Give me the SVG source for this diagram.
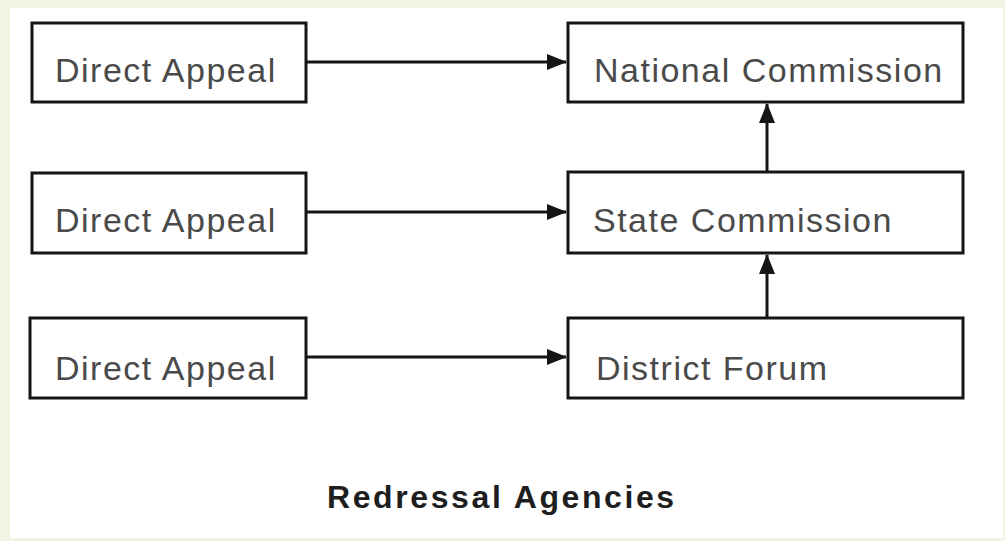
<svg xmlns="http://www.w3.org/2000/svg" width="1005" height="541" viewBox="0 0 1005 541">
<style>
.box{fill:#fff;stroke:#151515;stroke-width:3}
.lbl{font-family:"Liberation Sans",Arial,sans-serif;font-size:34px;fill:#4a4a4a;letter-spacing:1.5px}
.ttl{font-family:"Liberation Sans",Arial,sans-serif;font-size:32px;font-weight:bold;fill:#1e1e1e;letter-spacing:2.6px}
.con{stroke:#151515;stroke-width:3;fill:none}
</style>
<defs>
<marker id="ah" viewBox="0 0 20 16" refX="19" refY="8" markerWidth="20" markerHeight="16" markerUnits="userSpaceOnUse" orient="auto">
<path d="M0,0 L20,8 L0,16 Z" fill="#151515"/>
</marker>
</defs>
<rect width="1005" height="541" fill="#f2f4e3"/>
<rect x="10" y="8" width="993" height="530" fill="#ffffff"/>
<g id="connectors">
<line class="con" x1="306" y1="62" x2="566" y2="62" marker-end="url(#ah)"/>
<line class="con" x1="306" y1="212" x2="566" y2="212" marker-end="url(#ah)"/>
<line class="con" x1="306" y1="357" x2="566" y2="357" marker-end="url(#ah)"/>
<line class="con" x1="767" y1="172" x2="767" y2="104" marker-end="url(#ah)"/>
<line class="con" x1="767" y1="318" x2="767" y2="255" marker-end="url(#ah)"/>
</g>
<g id="direct1"><rect class="box" x="32" y="23" width="274" height="79"/><text class="lbl" x="55" y="82">Direct Appeal</text></g>
<g id="direct2"><rect class="box" x="32" y="173" width="274" height="80"/><text class="lbl" x="55" y="232">Direct Appeal</text></g>
<g id="direct3"><rect class="box" x="30" y="318" width="276" height="80"/><text class="lbl" x="55" y="380">Direct Appeal</text></g>
<g id="national"><rect class="box" x="568" y="23" width="395" height="79"/><text class="lbl" x="594" y="82">National Commission</text></g>
<g id="state"><rect class="box" x="568" y="172" width="395" height="81"/><text class="lbl" x="593" y="232">State Commission</text></g>
<g id="district"><rect class="box" x="568" y="318" width="395" height="80"/><text class="lbl" x="596" y="380">District Forum</text></g>
<text class="ttl" x="327" y="508">Redressal Agencies</text>
</svg>
